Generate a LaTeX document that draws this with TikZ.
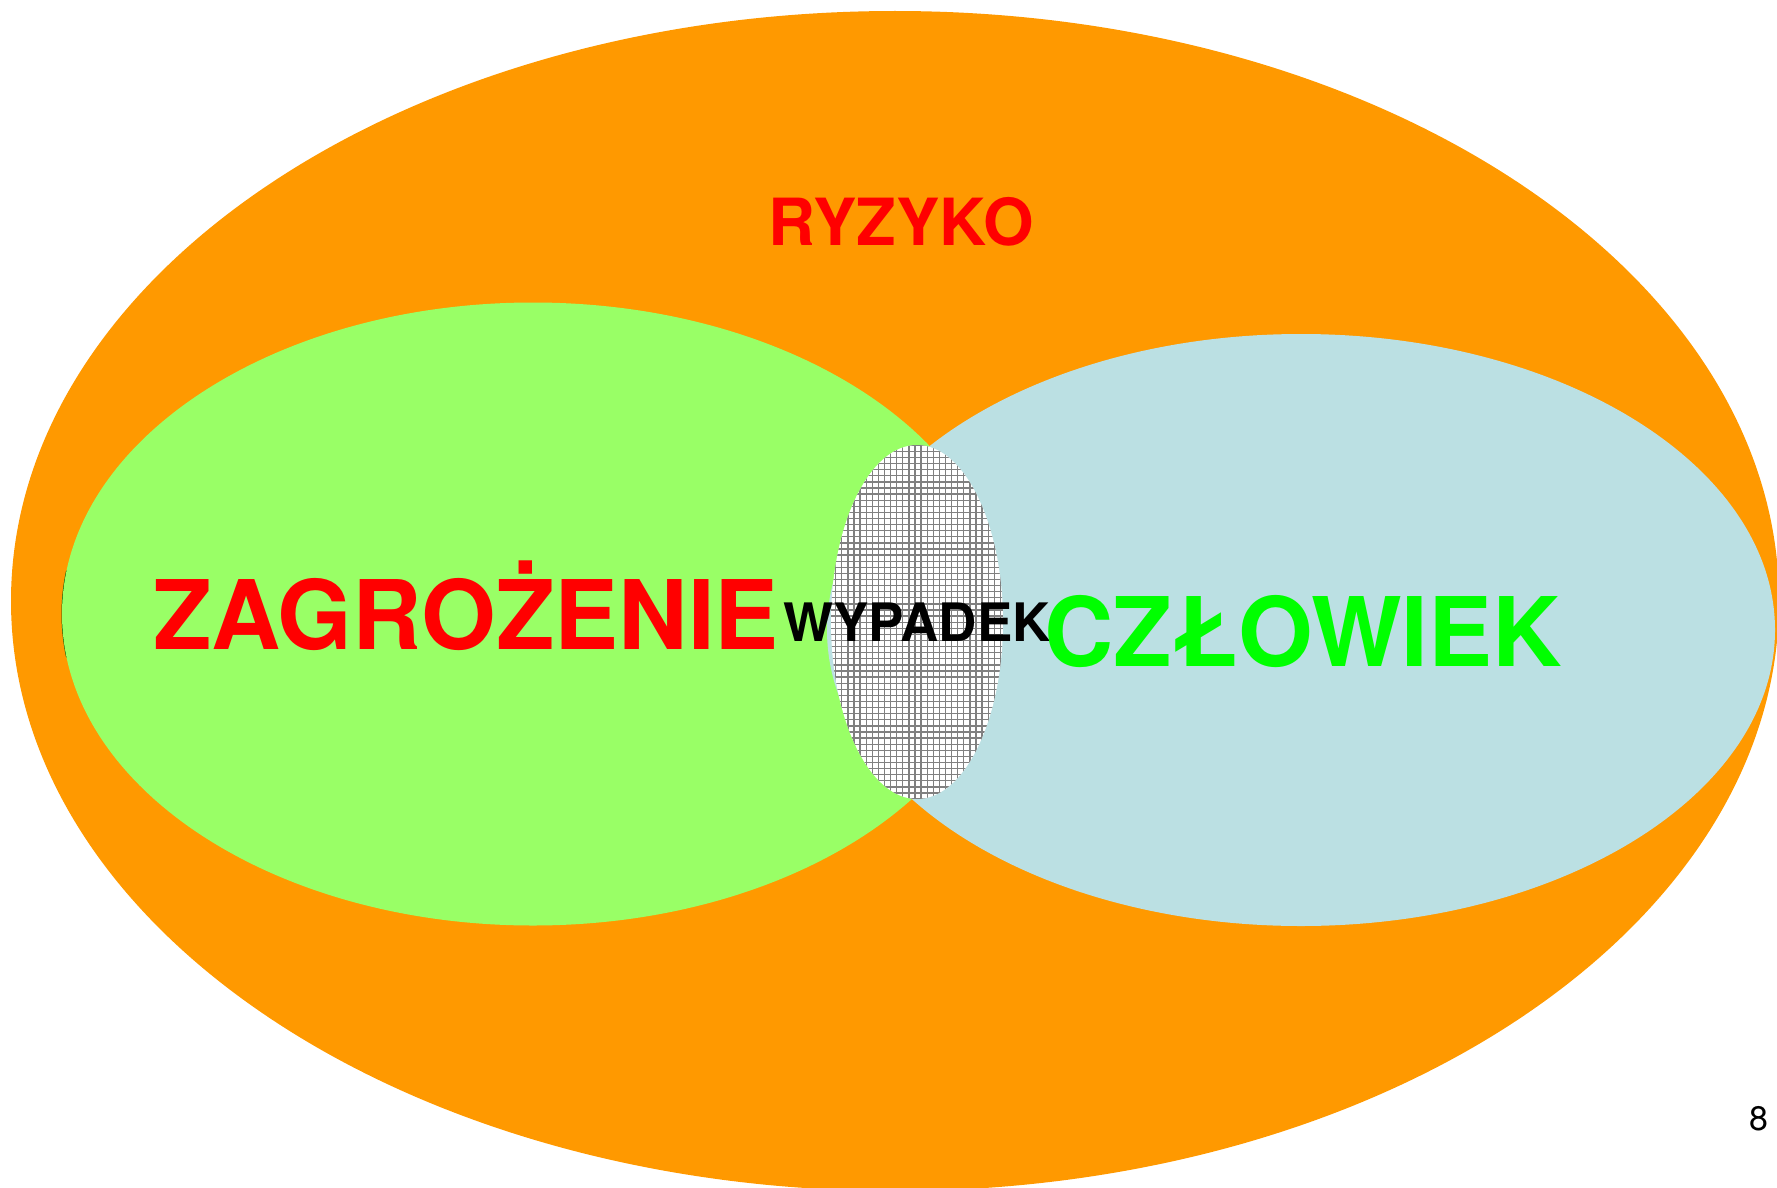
\documentclass[tikz,border=0pt]{standalone}
\usepackage{fontspec}
\newfontfamily\hv{TeX Gyre Heros}
\definecolor{riskorange}{HTML}{FF9900}
\definecolor{hazardgreen}{HTML}{99FF66}
\definecolor{humanblue}{HTML}{BBE0E3}
\definecolor{brightgreen}{HTML}{00FF00}
\tikzset{
  biglabel/.style={font=\hv\bfseries, inner sep=0pt, anchor=base},
}
\begin{document}
\begin{tikzpicture}[x=1pt,y=-1pt]
\useasboundingbox (0,0) rectangle (1777,1188);
\clip (0,0) rectangle (1777,1188);
% outer risk ellipse
\fill[riskorange] (895,601) ellipse [x radius=884pt, y radius=590pt];
% hazard ellipse
\draw[black!70!green, line width=1pt] (66.6,570.6) arc [start angle=172, end angle=188, x radius=471.5pt, y radius=311.5pt];
\fill[hazardgreen] (533,614) ellipse [x radius=471pt, y radius=311.5pt];
% human ellipse
\fill[humanblue] (1301,630) ellipse [x radius=474pt, y radius=296pt];
% accident ellipse with grid
\fill[white] (917,622) ellipse [x radius=86pt, y radius=177pt];
\begin{scope}
\clip (917,622) ellipse [x radius=86pt, y radius=177pt];
\draw[gray, line width=1.3pt] (826,440) grid[step=6.1pt] (1010,805);
\end{scope}
% labels
\node[biglabel, text=red, font=\hv\bfseries\fontsize{65}{65}\selectfont] (ryzyko) at (901,245) {RYZYKO};
\node[biglabel, text=red, font=\hv\bfseries\fontsize{96}{96}\selectfont] (zagrozenie) at (466,649) {ZAGROŻENIE};
\node[biglabel, text=black, font=\hv\bfseries\fontsize{53}{53}\selectfont] (wypadek) at (917,641) {WYPADEK};
\node[biglabel, text=brightgreen, font=\hv\bfseries\fontsize{96}{96}\selectfont] (czlowiek) at (1303,666) {CZŁOWIEK};
\node[biglabel, text=black, font=\hv\fontsize{34}{34}\selectfont] (pagenum) at (1759,1130) {8};
\end{tikzpicture}
\end{document}
